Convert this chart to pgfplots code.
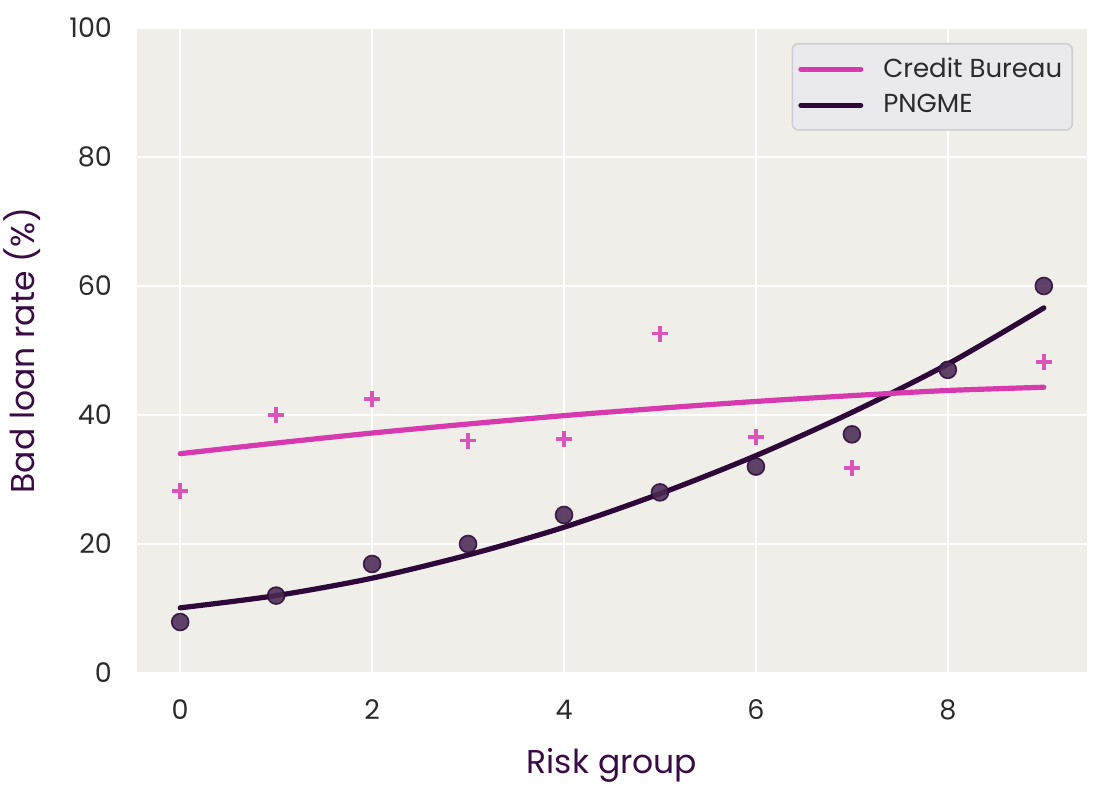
\documentclass[border=0pt]{standalone}
\usepackage{pgfplots}
\pgfplotsset{compat=1.18}
\usepackage{fontspec}
\setmainfont{Poppins}
\definecolor{bg}{HTML}{EFEEE9}
\definecolor{pinkline}{HTML}{D63AAE}
\definecolor{pinkcross}{HTML}{DA55BA}
\definecolor{darkline}{HTML}{2D0838}
\definecolor{dotfill}{HTML}{4A2A55}
\definecolor{dotedge}{HTML}{2E0B3A}
\definecolor{tickgray}{HTML}{2B2B2B}
\definecolor{labelpurple}{HTML}{3A0C45}
\definecolor{legbg}{HTML}{EAE9EE}
\definecolor{legborder}{HTML}{CFCFD3}
\begin{document}
\begin{tikzpicture}
\begin{axis}[
  scale only axis, width=475pt, height=322.5pt,
  xmin=-0.45, xmax=9.45, ymin=0, ymax=100,
  axis background/.style={fill=bg},
  axis line style={draw=none},
  grid=major, grid style={white, line width=1.1pt},
  major tick length=0pt,
  xtick={0,2,4,6,8}, ytick={0,20,40,60,80,100},
  tick label style={font=\fontsize{13.5}{15}\selectfont, text=tickgray},
  /pgf/number format/assume math mode=true,
  yticklabel style={anchor=east, xshift=-9pt},
  xticklabel style={anchor=north, yshift=-10pt},
  xlabel={Risk group}, ylabel={Bad loan rate (\%)},
  every axis x label/.style={at={(axis description cs:0.5,0)}, yshift=-46pt, anchor=center, font=\fontsize{16.5}{18}\selectfont, text=labelpurple},
  every axis y label/.style={at={(axis description cs:0,0.5)}, xshift=-57.5pt, rotate=90, anchor=center, font=\fontsize{16.5}{18}\selectfont, text=labelpurple},
  legend style={at={(1,1)}, xshift=-7pt, yshift=-7.5pt, anchor=north east, fill=legbg, draw=legborder, line width=0.8pt, rounded corners=3pt, font=\fontsize{13}{15}\selectfont, text=tickgray, inner xsep=3pt, inner ysep=5pt, row sep=3pt, cells={anchor=west}, /tikz/every odd column/.append style={column sep=8pt}},
  legend image code/.code={\draw[#1, line width=2.5pt, line cap=round] (0pt,0pt) -- (30pt,0pt);},
]
\addplot[darkline, line width=2.6pt, smooth, line cap=round, forget plot] coordinates {
(0,10.1) (1,12.0) (2,14.7) (3,18.3) (4,22.6) (5,27.8) (6,33.7) (7,40.4) (8,47.9) (9,56.6)};
\addplot[pinkline, line width=2.6pt, smooth, line cap=round] coordinates {
(0,34.0) (1,35.65) (2,37.2) (3,38.6) (4,39.9) (5,41.05) (6,42.1) (7,43.0) (8,43.8) (9,44.3)};
\addlegendentry{Credit Bureau}
\addlegendimage{darkline, line width=2.6pt}
\addlegendentry{PNGME}
\addplot[only marks, mark=+, mark size=4pt, pinkcross, line width=1.7pt, forget plot] coordinates {
(0,28.2) (1,40.0) (2,42.5) (3,36.0) (4,36.3) (5,52.6) (6,36.6) (7,31.8) (9,48.2)};
\addplot[only marks, mark=*, mark size=4.25pt, mark options={fill=dotfill, draw=dotedge, line width=0.8pt, opacity=0.88}, forget plot] coordinates {
(0,7.9) (1,12.0) (2,16.9) (3,20.0) (4,24.5) (5,28.0) (6,32.0) (7,37.0) (8,47.0) (9,60.0)};
\end{axis}
\pgfresetboundingbox
\path[use as bounding box] ([xshift=-68.5pt,yshift=-58.5pt]current axis.south west) rectangle ([xshift=8.5pt,yshift=14pt]current axis.north east);
\end{tikzpicture}
\end{document}
